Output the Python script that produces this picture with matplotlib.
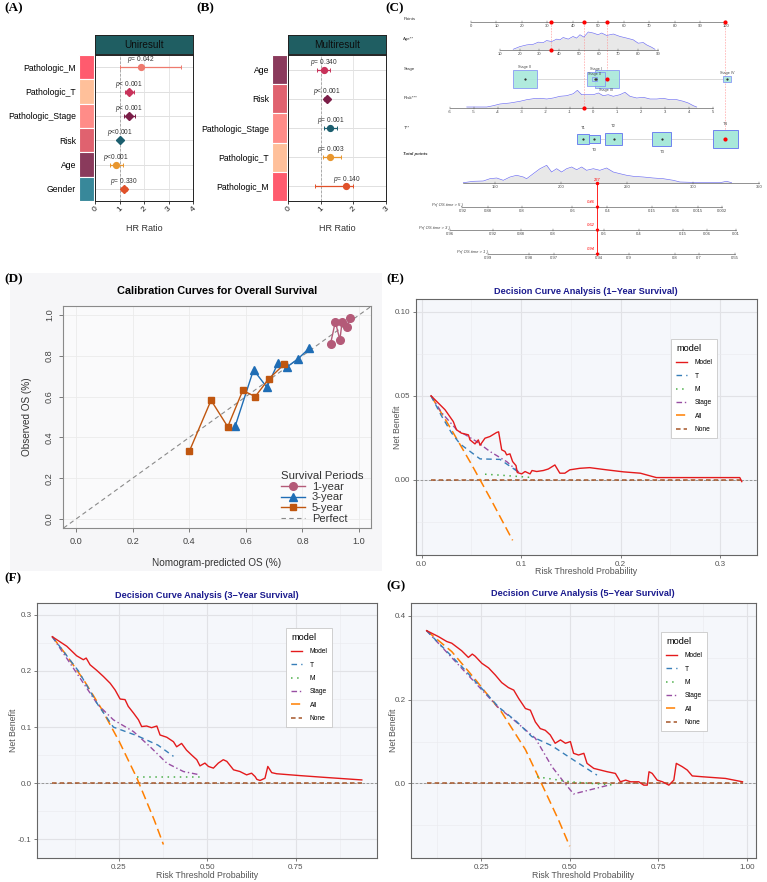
import matplotlib
matplotlib.use('Agg')
import matplotlib.pyplot as plt
from matplotlib.patches import Rectangle
from matplotlib.ticker import FixedLocator
import numpy as np

plt.rcParams['font.family'] = ['Liberation Sans', 'DejaVu Sans']
plt.rcParams['mathtext.fontset'] = 'custom'
plt.rcParams['mathtext.it'] = 'Liberation Sans:italic'
plt.rcParams['mathtext.rm'] = 'Liberation Sans'

# ---------------- DATA ----------------
# Panel A: univariate Cox
uni_vars = ['Pathologic_M', 'Pathologic_T', 'Pathologic_Stage', 'Risk', 'Age', 'Gender']
uni_hr = [1.88, 1.40, 1.40, 1.02, 0.87, 1.18]
uni_lo = [1.00, 1.22, 1.20, 0.98, 0.62, 1.05]
uni_hi = [3.50, 1.60, 1.65, 1.06, 1.15, 1.32]
uni_p = ['$p$= 0.042', '$p$< 0.001', '$p$< 0.001', '$p$<0.001', '$p$<0.001', '$p$= 0.330']

# Panel B: multivariate Cox
multi_vars = ['Age', 'Risk', 'Pathologic_Stage', 'Pathologic_T', 'Pathologic_M']
multi_hr = [1.10, 1.18, 1.30, 1.30, 1.79]
multi_lo = [0.90, 1.11, 1.10, 1.08, 0.83]
multi_hi = [1.28, 1.26, 1.51, 1.61, 2.00]
multi_p = ['$p$= 0.340', '$p$< 0.001', '$p$= 0.001', '$p$= 0.003', '$p$= 0.140']

# Panel C: nomogram
age_ticks = [10, 20, 30, 40, 50, 60, 70, 80, 90]
age_grid = [16.7, 20, 23.5, 27, 29.4, 32, 33.6, 36.2, 38.7, 40.4, 42, 44.6, 47, 48.8, 50.5,
            52.5, 54.7, 57.2, 59.7, 61.5, 64, 67.4, 70.8, 74.2, 77.5, 80, 82.6, 84.3, 86.8, 88.5]
age_dens = [0.7, 3.3, 5, 5.7, 7.7, 7.3, 9.3, 8.3, 10.7, 10, 12.3, 10.7, 13.3, 11.7, 15,
            12.7, 17.7, 16.7, 15, 16.7, 14.3, 15.7, 13.3, 11.7, 10, 6.7, 7.3, 5, 2.7, 0.7]
risk_ticks = [-6, -5, -4, -3, -2, -1, 0, 1, 2, 3, 4, 5]
risk_grid = [-5.30, -4.88, -4.46, -4.19, -3.91, -3.49, -3.07, -2.79, -2.51, -2.23, -1.95, -1.68,
             -1.40, -1.12, -0.84, -0.67, -0.49, -0.28, 0.00, 0.21, 0.41, 0.62, 0.83, 1.11, 1.32,
             1.53, 1.81, 2.09, 2.37, 2.65, 2.92, 3.20, 3.49, 3.76, 3.97, 4.18, 4.32]
risk_dens = [1, 1, 1, 2.3, 4, 5, 6.7, 8.3, 9.3, 9.7, 9, 10, 11.7, 12.3, 14.3, 17.7, 13.3, 13.3,
             13.3, 15, 12.3, 13.3, 11.7, 13.3, 15.7, 11.7, 10, 10.7, 9, 9, 9.7, 8.3, 8.3, 6.7, 5, 2.3, 1]
stage_levels = ['Stage II', 'Stage I', 'Stage 0', 'Stage III', 'Stage IV']
stage_points = [21.2, 49.0, 48.6, 53.2, 100.4]
stage_props = [0.37, 0.215, 0.017, 0.363, 0.036]
t_levels = ['T1', 'T0', 'T2', 'T3', 'T4']
t_points = [43.9, 48.4, 55.9, 74.9, 99.8]
t_props = [0.10, 0.085, 0.185, 0.24, 0.39]
tp_ticks = [150, 200, 250, 300, 350]
tp_grid = [126.0, 133.6, 141.1, 146.2, 151.3, 156.3, 161.4, 166.4, 171.5, 174.0, 179.0, 184.1, 189.2,
           192.9, 196.7, 200.5, 204.3, 208.1, 211.9, 215.7, 219.4, 224.5, 229.5, 234.6, 239.6, 244.7,
           249.8, 254.8, 262.4, 269.9, 277.5, 285.1, 290.2, 297.7, 305.3, 312.9, 320.5, 325.5, 329.3]
tp_dens = [0.3, 1.7, 2, 4.3, 5, 2.7, 6, 7.7, 6, 4.3, 9.3, 14.3, 17.7, 11, 14.3, 11, 14.3, 16, 13.3, 16,
           12.7, 14.3, 12.7, 15, 11, 9.3, 7.7, 6.7, 6, 5, 4.3, 2.7, 1, 0.7, 0.3, 0.3, 0.3, 1.7, 0.3]
pr5_labels = ['0.92', '0.88', '0.8', '0.6', '0.4', '0.15', '0.06', '0.015', '0.002']
pr5_tp = [125.3, 144.7, 170.5, 208.6, 235.1, 268.9, 286.9, 303.8, 322.0]
pr3_labels = ['0.96', '0.92', '0.88', '0.8', '0.6', '0.4', '0.15', '0.06', '0.01']
pr3_tp = [115.7, 148.5, 169.4, 193.9, 232.6, 259.1, 292.4, 310.8, 332.8]
pr1_labels = ['0.99', '0.98', '0.97', '0.94', '0.9', '0.8', '0.7', '0.55']
pr1_tp = [144.7, 175.8, 194.7, 228.8, 251.5, 286.4, 304.5, 331.6]
case_age, case_risk, case_stage, case_t = 35.8, -0.4, 'Stage III', 'T4'
case_total = 227
case_probs = ['0.46', '0.62', '0.94']

# Panel D: calibration
cal1_x = [0.899, 0.916, 0.932, 0.940, 0.957, 0.967]
cal1_y = [0.858, 0.967, 0.878, 0.967, 0.943, 0.984]
cal3_x = [0.562, 0.627, 0.674, 0.713, 0.747, 0.784, 0.824]
cal3_y = [0.454, 0.731, 0.646, 0.763, 0.747, 0.785, 0.837]
cal5_x = [0.400, 0.477, 0.536, 0.589, 0.633, 0.681, 0.736]
cal5_y = [0.331, 0.582, 0.452, 0.630, 0.600, 0.687, 0.759]

# Panel E: DCA 1-year
e_model_x = [0.0094, 0.0235, 0.0318, 0.035, 0.040, 0.047, 0.0486, 0.0536, 0.057, 0.0587, 0.0637, 0.0687,
             0.0754, 0.0774, 0.0805, 0.0838, 0.0855, 0.0888, 0.0915, 0.0949, 0.0962, 0.1006, 0.104, 0.109,
             0.111, 0.1157, 0.1224, 0.1274, 0.134, 0.139, 0.144, 0.149, 0.159, 0.169, 0.186, 0.203, 0.22,
             0.236, 0.32, 0.322]
e_model_y = [0.05, 0.0417, 0.0347, 0.0298, 0.0278, 0.0268, 0.0238, 0.0214, 0.0238, 0.0206, 0.0248, 0.0258,
             0.0282, 0.0286, 0.0179, 0.0169, 0.0149, 0.0155, 0.0109, 0.0085, 0.0044, 0.0036, 0.005, 0.0036,
             0.0056, 0.005, 0.0056, 0.0065, 0.0089, 0.004, 0.004, 0.006, 0.0069, 0.0073, 0.006, 0.0048, 0.004,
             0.0014, 0.0014, -0.001]
e_t_x = [0.0094, 0.02, 0.03, 0.0386, 0.0587, 0.0788, 0.099]
e_t_y = [0.05, 0.038, 0.028, 0.0214, 0.0125, 0.0122, 0.004]
e_m_x = [0.0637, 0.08, 0.112]
e_m_y = [0.0034, 0.0028, 0.0014]
e_stage_x = [0.0094, 0.02, 0.035, 0.0553, 0.0687, 0.0855, 0.097, 0.10]
e_stage_y = [0.05, 0.04, 0.030, 0.0228, 0.0169, 0.0109, 0.005, 0.004]
e_all_x = [0.0094, 0.03, 0.05, 0.07, 0.0915]
e_all_y = [0.05, 0.0298, 0.0094, -0.012, -0.0359]
e_none_x = [0.0094, 0.322]
e_none_y = [0.0, 0.0]

# Panel F: DCA 3-year
f_model_x = [0.061, 0.102, 0.13, 0.149, 0.157, 0.168, 0.187, 0.206, 0.225, 0.239, 0.253, 0.267, 0.276,
             0.291, 0.305, 0.314, 0.328, 0.342, 0.357, 0.366, 0.385, 0.404, 0.413, 0.427, 0.441, 0.456,
             0.470, 0.479, 0.493, 0.503, 0.517, 0.531, 0.545, 0.555, 0.574, 0.592, 0.611, 0.625, 0.635,
             0.64, 0.649, 0.663, 0.671, 0.682, 0.696, 0.762, 0.828, 0.937]
f_model_y = [0.261, 0.244, 0.227, 0.22, 0.223, 0.211, 0.201, 0.19, 0.178, 0.166, 0.15, 0.149, 0.137,
             0.125, 0.113, 0.101, 0.102, 0.099, 0.102, 0.086, 0.082, 0.074, 0.065, 0.071, 0.059, 0.05,
             0.042, 0.031, 0.036, 0.03, 0.027, 0.036, 0.042, 0.039, 0.024, 0.021, 0.015, 0.018, 0.012,
             0.007, 0.005, 0.009, 0.03, 0.019, 0.017, 0.0137, 0.0107, 0.006]
f_t_x = [0.061, 0.135, 0.19, 0.234, 0.30, 0.36, 0.404]
f_t_y = [0.261, 0.200, 0.14, 0.100, 0.085, 0.068, 0.048]
f_m_x = [0.30, 0.40, 0.484]
f_m_y = [0.012, 0.012, 0.012]
f_stage_x = [0.061, 0.19, 0.234, 0.291, 0.338, 0.385, 0.432, 0.479]
f_stage_y = [0.261, 0.14, 0.113, 0.092, 0.065, 0.036, 0.021, 0.015]
f_all_x = [0.0613, 0.10, 0.15, 0.20, 0.25, 0.30, 0.35, 0.3755]
f_all_y = [0.261, 0.229, 0.184, 0.133, 0.075, 0.010, -0.066, -0.109]
f_none_x = [0.061, 0.937]
f_none_y = [0.0, 0.0]

# Panel G: DCA 5-year
g_model_x = [0.096, 0.129, 0.153, 0.167, 0.195, 0.214, 0.225, 0.233, 0.252, 0.271, 0.29, 0.308, 0.327,
             0.342, 0.356, 0.375, 0.389, 0.403, 0.417, 0.431, 0.445, 0.459, 0.474, 0.488, 0.502, 0.511,
             0.525, 0.54, 0.549, 0.568, 0.587, 0.606, 0.629, 0.643, 0.658, 0.672, 0.695, 0.709, 0.719,
             0.724, 0.733, 0.747, 0.762, 0.78, 0.794, 0.801, 0.818, 0.832, 0.846, 0.875, 0.94, 0.988]
g_model_y = [0.365, 0.351, 0.339, 0.335, 0.317, 0.301, 0.309, 0.304, 0.287, 0.276, 0.259, 0.241, 0.229,
             0.223, 0.203, 0.179, 0.175, 0.147, 0.131, 0.127, 0.116, 0.096, 0.104, 0.096, 0.10, 0.072,
             0.068, 0.072, 0.048, 0.036, 0.032, 0.028, 0.024, 0.004, 0.008, 0.004, 0.004, -0.004, -0.004,
             0.028, 0.024, 0.008, 0.004, -0.004, 0.008, 0.048, 0.04, 0.032, 0.018, 0.016, 0.012, 0.004]
g_t_x = [0.096, 0.20, 0.30, 0.35, 0.393, 0.45, 0.50, 0.577]
g_t_y = [0.365, 0.275, 0.182, 0.148, 0.112, 0.09, 0.062, 0.02]
g_m_x = [0.408, 0.50, 0.629]
g_m_y = [0.016, 0.004, -0.004]
g_stage_x = [0.096, 0.30, 0.332, 0.403, 0.45, 0.483, 0.511, 0.61]
g_stage_y = [0.365, 0.18, 0.159, 0.108, 0.040, 0.004, -0.025, -0.004]
g_all_x = [0.096, 0.167, 0.233, 0.308, 0.375, 0.422, 0.469, 0.50]
g_all_y = [0.365, 0.315, 0.249, 0.170, 0.081, -0.003, -0.088, -0.150]
g_none_x = [0.096, 0.99]
g_none_y = [0.0, 0.0]

model_names = ['Model', 'T', 'M', 'Stage', 'All', 'None']

# ---------------- FIGURE ----------------
W, H = 767, 882
fig = plt.figure(figsize=(W / 100, H / 100), dpi=100)
fig.patch.set_facecolor('white')


def ax_px(x0, y0, x1, y1, **kw):
    return fig.add_axes([x0 / W, 1 - y1 / H, (x1 - x0) / W, (y1 - y0) / H], **kw)


def ftext(x, y, s, **kw):
    return fig.text(x / W, 1 - y / H, s, **kw)


def panel_label(x, y, s):
    ftext(x, y, s, fontfamily='Liberation Serif', fontweight='bold', fontsize=9.5,
          ha='left', va='center')


# light background behind the calibration panel (drawn beneath all axes)
fig.patches.append(Rectangle((10 / W, 1 - 571 / H), 372 / W, 298 / H, transform=fig.transFigure,
                             facecolor='#F6F6F8', edgecolor='none', zorder=-10))

panel_label(4, 8, '(A)')
panel_label(196, 8, '(B)')
panel_label(385, 8, '(C)')
panel_label(4, 279, '(D)')
panel_label(386, 279, '(E)')
panel_label(4, 578, '(F)')
panel_label(386, 586, '(G)')


# ---------------- Forest plots ----------------
def forest(x0, x1, header, names, hr, lo, hi, ptxt, pcols, markers, barcols, xmax, pdy):
    n = len(names)
    hax = ax_px(x0, 35, x1, 54)
    hax.set_facecolor('#1F5E62')
    hax.set_xticks([]); hax.set_yticks([])
    for s in hax.spines.values():
        s.set_color('#222'); s.set_linewidth(0.7)
    hax.text(0.5, 0.45, header, ha='center', va='center', fontsize=7.2, color='#0d0d0d',
             transform=hax.transAxes)
    ax = ax_px(x0, 55, x1, 201)
    ax.set_xlim(0, xmax); ax.set_ylim(n - 0.5, -0.5)
    ys = np.arange(n)
    for y in ys:
        ax.axhline(y, color='#DADADA', lw=0.6, zorder=0)
    for v in range(1, xmax):
        ax.axvline(v, color='#E2E2E2', lw=0.6, zorder=0)
    ax.axvline(1, color='#A0A0A0', ls=(0, (3, 2)), lw=0.6, zorder=1)
    for i in range(n):
        ax.errorbar(hr[i], ys[i], xerr=[[hr[i] - lo[i]], [hi[i] - hr[i]]], fmt='none',
                    ecolor=pcols[i], elinewidth=0.9, capsize=1.3, capthick=0.7, zorder=2)
        ax.plot(hr[i], ys[i], marker=markers[i], ms=4.2, color=pcols[i], mec=pcols[i],
                mfc=pcols[i], zorder=3)
        ax.text(hr[i], ys[i] - pdy, ptxt[i], ha='center', va='center', fontsize=4.8, color='#333')
    ax.set_yticks([])
    ax.set_xticks(range(0, xmax + 1))
    ax.tick_params(axis='x', length=2, width=0.6, labelsize=6, pad=1, labelrotation=45, colors='#222')
    for s in ax.spines.values():
        s.set_color('#222'); s.set_linewidth(0.7)
    ftext((x0 + x1) / 2, 228, 'HR Ratio', ha='center', va='center', fontsize=6.5, color='#333')
    cax = ax_px(x0 - 16, 55, x0 - 1, 201)
    cax.barh(ys, 1, height=1, color=barcols, edgecolor='white', linewidth=0.8)
    cax.set_ylim(n - 0.5, -0.5); cax.set_xlim(0, 1)
    cax.set_xticks([]); cax.set_yticks(ys)
    cax.set_yticklabels(names, fontsize=6.2)
    cax.tick_params(axis='y', length=0, pad=2)
    for s in cax.spines.values():
        s.set_visible(False)


forest(95, 193, 'Uniresult', uni_vars, uni_hr, uni_lo, uni_hi, uni_p,
       ['#EE7A6E', '#C8325A', '#7B1E48', '#1B5E6E', '#E8962E', '#E0512A'],
       ['o', 'D', 'D', 'D', 'o', 'D'],
       ['#FF5B6E', '#FFC09A', '#FF8C88', '#E0626F', '#8A3A5C', '#38889A'], 4, 0.30)
forest(288, 386, 'Multiresult', multi_vars, multi_hr, multi_lo, multi_hi, multi_p,
       ['#C8325A', '#7B1E48', '#1B5E6E', '#E8962E', '#E0512A'],
       ['o', 'D', 'o', 'o', 'o'],
       ['#8A3A5C', '#E0626F', '#FF8C88', '#FFC09A', '#FF5B6E'], 3, 0.25)

# ---------------- Nomogram ----------------
axC = ax_px(395, 10, 767, 265)
axC.set_xlim(-29.8, 116.1)
axC.set_ylim(265, 10)
axC.axis('off')
PX = 2.55  # pixels per point unit


def age_to_pts(a):
    return 11.37 + (np.asarray(a, float) - 10) * 0.7745


def risk_to_pts(r):
    return -8.24 + (np.asarray(r, float) + 6) * 9.376


def tp_to_pts(t):
    return 9.41 + (np.asarray(t, float) - 150) * 0.5176


FS = 3.0
TC = '#444444'


def nomo_axis(y, pos, labels, lo=None, hi=None, lab_dx=0.0):
    lo = min(pos) if lo is None else lo
    hi = max(pos) if hi is None else hi
    axC.plot([lo, hi], [y, y], color='#555', lw=0.45, zorder=2)
    for p, l in zip(pos, labels):
        axC.plot([p, p], [y - 1.3, y + 1.3], color='#555', lw=0.35, zorder=2)
        axC.text(p + lab_dx, y + 2.0, l, ha='center', va='top', fontsize=FS, color=TC)


def row_label(y, s, **kw):
    axC.text(-26.5, y, s, ha='left', va='center', fontsize=FS + 0.2, color='#333', **kw)


Y_PTS, Y_AGE, Y_STG, Y_RSK, Y_T, Y_TP, Y_P5, Y_P3, Y_P1 = 22, 50, 79, 108, 139, 183, 207, 230, 254

row_label(19, 'Points')
nomo_axis(Y_PTS, list(range(0, 101, 10)), [str(v) for v in range(0, 101, 10)])

row_label(39, 'Age**')
ax_age = age_to_pts(age_grid)
ad = np.array(age_dens) / max(age_dens) * 18
axC.fill_between(ax_age, Y_AGE, Y_AGE - ad, color='#E8E8E8', lw=0, zorder=1)
axC.plot(ax_age, Y_AGE - ad, color='#6B6BF0', lw=0.45, zorder=2)
nomo_axis(Y_AGE, age_to_pts(age_ticks), [str(v) for v in age_ticks])

row_label(69, 'Stage')
sp = np.array(stage_points)
axC.plot([sp.min(), sp.max()], [Y_STG, Y_STG], color='#D5D5D5', lw=0.6, zorder=1)
order = np.argsort(stage_props)[::-1]
for i in order:
    area = stage_props[i] * 1171
    w, h = np.sqrt(area * 1.35), np.sqrt(area / 1.35)
    axC.add_patch(Rectangle((sp[i] - w / 2 / PX, Y_STG - h / 2), w / PX, h,
                            facecolor='#A8E8DA', edgecolor='#8090F5', lw=0.6, alpha=0.9, zorder=3))
    axC.plot(sp[i], Y_STG, marker='s', ms=0.6, color='#333', zorder=4)
stage_lab_dy = [-12, -10, -5, 11, -6]
for i, s in enumerate(stage_levels):
    axC.text(sp[i], Y_STG + stage_lab_dy[i], s, ha='center', va='center', fontsize=FS - 0.3, color=TC, zorder=5)

row_label(98, 'Risk***')
rx = risk_to_pts(risk_grid)
rd = np.array(risk_dens) / max(risk_dens) * 17.7
axC.fill_between(rx, Y_RSK, Y_RSK - rd, color='#E8E8E8', lw=0, zorder=1)
axC.plot(rx, Y_RSK - rd, color='#6B6BF0', lw=0.45, zorder=2)
nomo_axis(Y_RSK, risk_to_pts(risk_ticks), [str(v) for v in risk_ticks])

row_label(128, 'T**')
tpnt = np.array(t_points)
axC.plot([tpnt.min(), tpnt.max()], [Y_T, Y_T], color='#D5D5D5', lw=0.6, zorder=1)
t_lab_dy = [-11, 11, -13, 13, -15]
for i, s in enumerate(t_levels):
    area = t_props[i] * 1165
    w, h = np.sqrt(area * 1.3), np.sqrt(area / 1.3)
    axC.add_patch(Rectangle((tpnt[i] - w / 2 / PX, Y_T - h / 2), w / PX, h,
                            facecolor='#A8E8DA', edgecolor='#6F82F0', lw=0.7, zorder=3))
    axC.plot(tpnt[i], Y_T, marker='s', ms=0.6, color='#333', zorder=4)
    axC.text(tpnt[i], Y_T + t_lab_dy[i], s, ha='center', va='center', fontsize=FS, color=TC)

row_label(154, 'Total points', fontweight='bold', fontstyle='italic')
tx = tp_to_pts(tp_grid)
td = np.array(tp_dens) / max(tp_dens) * 17.7
axC.fill_between(tx, Y_TP, Y_TP - td, color='#E8E8E8', lw=0, zorder=1)
axC.plot(tx, Y_TP - td, color='#6B6BF0', lw=0.45, zorder=2)
nomo_axis(Y_TP, tp_to_pts(tp_ticks), [str(v) for v in tp_ticks], lo=tp_to_pts(min(tp_grid)))

for yv, labs, tps, name in [(Y_P5, pr5_labels, pr5_tp, 'Pr( OS.time > 5 )'),
                            (Y_P3, pr3_labels, pr3_tp, 'Pr( OS.time > 3 )'),
                            (Y_P1, pr1_labels, pr1_tp, 'Pr( OS.time > 1 )')]:
    pp = tp_to_pts(tps)
    nomo_axis(yv, pp, labs)
    axC.text(pp[0], yv - 0.5, name, ha='right', va='bottom', fontsize=FS, color=TC, fontstyle='italic')

# case (red) overlay
red = '#FF0000'
case_pts = [float(age_to_pts(case_age)), float(risk_to_pts(case_risk)),
            stage_points[stage_levels.index(case_stage)], t_points[t_levels.index(case_t)]]
case_rows = [Y_AGE, Y_RSK, Y_STG, Y_T]
for p, yr in zip(case_pts, case_rows):
    axC.plot([p, p], [Y_PTS, yr], color='#FF9090', lw=0.4, ls=(0, (3, 2)), zorder=1)
    axC.plot(p, Y_PTS, 'o', ms=2.0, color=red, zorder=6)
    axC.plot(p, yr, 'o', ms=2.0, color=red, zorder=6)
tpc = float(tp_to_pts(case_total + 0.5))
axC.plot([tpc, tpc], [Y_TP, Y_P1], color=red, lw=0.6, zorder=5)
axC.plot(tpc, Y_TP, 'o', ms=1.5, color=red, zorder=6)
axC.text(tpc, Y_TP - 1.5, str(case_total), color=red, fontsize=FS, ha='center', va='bottom', zorder=6)
for yv, lab in zip([Y_P5, Y_P3, Y_P1], case_probs):
    axC.plot(tpc, yv, marker='v', ms=1.6, color=red, zorder=6)
    axC.text(tpc - 1.0, yv - 3.5, lab, color=red, fontsize=FS, ha='right', va='bottom',
             fontstyle='italic', zorder=6)

# ---------------- Calibration (D) ----------------
axD = ax_px(63, 306, 371, 528)
axD.set_facecolor('#FAFAFB')
axD.set_xlim(-0.046, 1.042)
axD.set_ylim(-0.044, 1.044)
ticks = [0, 0.2, 0.4, 0.6, 0.8, 1.0]
axD.set_xticks(ticks); axD.set_yticks(ticks)
axD.set_xticklabels(['%.1f' % t for t in ticks])
axD.set_yticklabels(['%.1f' % t for t in ticks], rotation=90, va='center')
axD.grid(color='#EBEBEB', lw=0.6)
axD.set_axisbelow(True)
axD.tick_params(length=3, width=0.6, colors='#666', labelsize=6.6, labelcolor='#444')
for s in axD.spines.values():
    s.set_color('#8A8A8A'); s.set_linewidth(0.8)
l1, = axD.plot(cal1_x, cal1_y, '-o', color='#B45A78', ms=5.5, lw=1.0, label='1-year', zorder=4)
l3, = axD.plot(cal3_x, cal3_y, '-^', color='#1F6DB5', ms=5.5, lw=1.0, label='3-year', zorder=4)
l5, = axD.plot(cal5_x, cal5_y, '-s', color='#C0560F', ms=5.0, lw=1.0, label='5-year', zorder=4)
lp = axD.axline((0, 0), slope=1, color='#8A8A8A', ls=(0, (4, 3)), lw=0.8, label='Perfect', zorder=2)
leg = axD.legend(handles=[l1, l3, l5, lp], title='Survival Periods', loc='lower right',
                 bbox_to_anchor=(1.0, -0.015), frameon=False, fontsize=8, title_fontsize=8.2,
                 labelspacing=0.05, handlelength=2.2, handletextpad=0.6, borderpad=0.2,
                 alignment='left')
for t in leg.get_texts():
    t.set_color('#333')
leg.get_title().set_color('#333')
ftext(217, 291, 'Calibration Curves for Overall Survival', ha='center', va='center',
      fontsize=7.8, fontweight='bold')
ftext(217, 563, 'Nomogram-predicted OS (%)', ha='center', va='center', fontsize=7.2, color='#333')
ftext(27, 417, 'Observed OS (%)', ha='center', va='center', fontsize=7.2, color='#333', rotation=90)

# ---------------- DCA panels ----------------
styles = {
    'Model': dict(color='#E41A1C', ls='-', lw=1.0),
    'T': dict(color='#377EB8', ls=(0, (4, 3)), lw=1.0),
    'M': dict(color='#4DAF4A', ls=(0, (1, 3)), lw=1.1),
    'Stage': dict(color='#984EA3', ls=(0, (4, 2, 1, 2)), lw=1.0),
    'All': dict(color='#FF7F00', ls=(0, (6, 3)), lw=1.1),
    'None': dict(color='#A65628', ls=(0, (3, 2)), lw=1.1),
}


def dca(rect, title, title_xy, xlab_y, ylab_x, xlim, ylim, xmaj, xmin, ymaj, ymin, xl, yl, series, anchor):
    ax = ax_px(*rect)
    ax.set_facecolor('#F5F7FB')
    ax.set_xlim(xlim); ax.set_ylim(ylim)
    ax.xaxis.set_major_locator(FixedLocator(xmaj)); ax.xaxis.set_minor_locator(FixedLocator(xmin))
    ax.yaxis.set_major_locator(FixedLocator(ymaj)); ax.yaxis.set_minor_locator(FixedLocator(ymin))
    ax.set_xticklabels(xl); ax.set_yticklabels(yl)
    ax.grid(which='major', color='#E1E2E6', lw=0.8)
    ax.grid(which='minor', color='#EAEBEF', lw=0.45)
    ax.set_axisbelow(True)
    ax.tick_params(which='major', length=2.5, width=0.6, colors='#666', labelsize=5.8,
                   labelcolor='#555', pad=1.5)
    ax.tick_params(which='minor', length=0)
    for s in ax.spines.values():
        s.set_color('#666'); s.set_linewidth(0.8)
    ax.axhline(0, color='#8C8C8C', ls=(0, (3, 2)), lw=0.6, zorder=1)
    handles = {}
    for name in ['None', 'All', 'Stage', 'M', 'T', 'Model']:
        xs, ys = series[name]
        ln, = ax.plot(xs, ys, label=name, zorder=3, **styles[name])
        handles[name] = ln
    leg = ax.legend(handles=[handles[n] for n in model_names], title='model', loc='upper left',
                    bbox_to_anchor=anchor, fontsize=4.8, title_fontsize=6.6, frameon=True,
                    fancybox=False, edgecolor='#C8C8C8', framealpha=1, labelspacing=0.95,
                    handlelength=1.6, handletextpad=1.2, borderpad=0.7, alignment='left')
    leg.get_frame().set_linewidth(0.6)
    x0, y0, x1, y1 = rect
    ftext(title_xy[0], title_xy[1], title, ha='center', va='center', fontsize=6.6,
          fontweight='bold', color='#1A1A8E')
    ftext((x0 + x1) / 2, xlab_y, 'Risk Threshold Probability', ha='center', va='center',
          fontsize=6.3, color='#555')
    ftext(ylab_x, (y0 + y1) / 2, 'Net Benefit', ha='center', va='center', fontsize=6.3,
          color='#555', rotation=90)
    return ax


dca((416, 299, 757, 555), 'Decision Curve Analysis (1\u2212Year Survival)', (586, 291), 571, 397,
    (-0.0057, 0.3373), (-0.0446, 0.1075), [0, 0.1, 0.2, 0.3], [0.05, 0.15, 0.25],
    [0, 0.05, 0.10], [-0.025, 0.025, 0.075], ['0.0', '0.1', '0.2', '0.3'], ['0.00', '0.05', '0.10'],
    {'Model': (e_model_x, e_model_y), 'T': (e_t_x, e_t_y), 'M': (e_m_x, e_m_y),
     'Stage': (e_stage_x, e_stage_y), 'All': (e_all_x, e_all_y), 'None': (e_none_x, e_none_y)},
    (0.739, 0.855))

dca((37, 603, 377, 858), 'Decision Curve Analysis (3\u2212Year Survival)', (207, 595), 875, 14,
    (0.0178, 0.98), (-0.133, 0.321), [0.25, 0.5, 0.75], [0.125, 0.375, 0.625, 0.875],
    [-0.1, 0, 0.1, 0.2, 0.3], [-0.05, 0.05, 0.15, 0.25], ['0.25', '0.50', '0.75'],
    ['-0.1', '0.0', '0.1', '0.2', '0.3'],
    {'Model': (f_model_x, f_model_y), 'T': (f_t_x, f_t_y), 'M': (f_m_x, f_m_y),
     'Stage': (f_stage_x, f_stage_y), 'All': (f_all_x, f_all_y), 'None': (f_none_x, f_none_y)},
    (0.724, 0.914))

dca((411, 603, 756, 858), 'Decision Curve Analysis (5\u2212Year Survival)', (583, 594), 875, 394,
    (0.052, 1.026), (-0.178, 0.431), [0.25, 0.5, 0.75, 1.0], [0.125, 0.375, 0.625, 0.875],
    [0, 0.2, 0.4], [-0.1, 0.1, 0.3], ['0.25', '0.50', '0.75', '1.00'], ['0.0', '0.2', '0.4'],
    {'Model': (g_model_x, g_model_y), 'T': (g_t_x, g_t_y), 'M': (g_m_x, g_m_y),
     'Stage': (g_stage_x, g_stage_y), 'All': (g_all_x, g_all_y), 'None': (g_none_x, g_none_y)},
    (0.716, 0.898))

fig.savefig('out.png', dpi=100)
